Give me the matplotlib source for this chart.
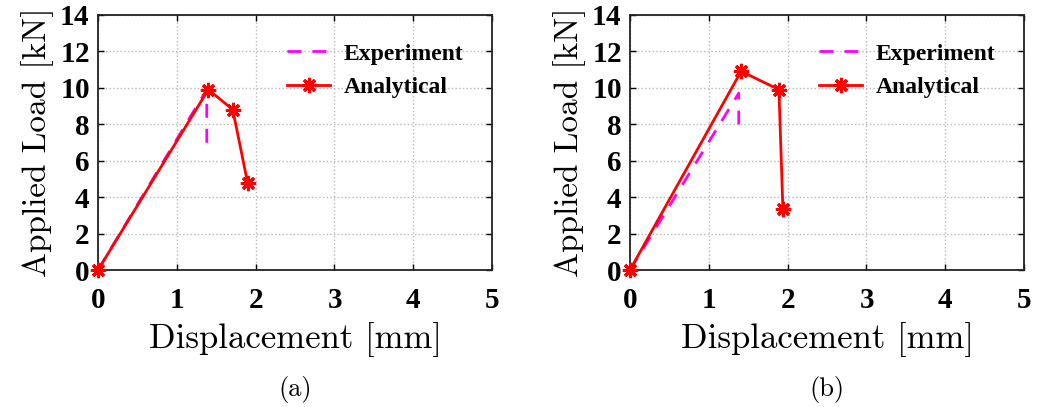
import matplotlib
matplotlib.use("Agg")
import matplotlib.pyplot as plt

plt.rcParams["font.family"] = "serif"
plt.rcParams["font.serif"] = ["cmr10", "DejaVu Serif"]
plt.rcParams["mathtext.fontset"] = "cm"
plt.rcParams["axes.formatter.use_mathtext"] = True

# Load-displacement curves for the two specimens
exp_a_disp = [0.0, 1.38, 1.38]
exp_a_load = [0.0, 9.9, 6.6]
ana_a_disp = [0.0, 1.40, 1.71, 1.90]
ana_a_load = [0.0, 9.9, 8.8, 4.75]

exp_b_disp = [0.0, 1.38, 1.38]
exp_b_load = [0.0, 9.7, 7.75]
ana_b_disp = [0.0, 1.41, 1.89, 1.94]
ana_b_load = [0.0, 10.9, 9.9, 3.35]

x_ticks = [0, 1, 2, 3, 4, 5]
y_ticks = [0, 2, 4, 6, 8, 10, 12, 14]

panels = [
    ("(a)", exp_a_disp, exp_a_load, ana_a_disp, ana_a_load),
    ("(b)", exp_b_disp, exp_b_load, ana_b_disp, ana_b_load),
]

bold_serif = {"family": "Liberation Serif", "weight": "bold"}

fig = plt.figure(figsize=(10.37, 4.07), dpi=100)
lefts = [0.0945, 0.6075]

for left, (tag, ex, ey, ax_, ay) in zip(lefts, panels):
    ax = fig.add_axes([left, 0.3366, 0.38, 0.627])
    ax.plot(ex, ey, color="magenta", linestyle=(0, (5, 4)), linewidth=2,
            label="Experiment")
    ax.plot(ax_, ay, color="red", linewidth=2, marker=(8, 2, 0),
            markersize=11, markeredgewidth=2.2, label="Analytical",
            clip_on=False, zorder=5)
    ax.set_xlim(0, 5)
    ax.set_ylim(0, 14)
    ax.set_xticks(x_ticks)
    ax.set_yticks(y_ticks)
    ax.grid(True, linestyle=":", color="#b8b8b8", linewidth=1)
    for sp in ax.spines.values():
        sp.set_linewidth(1.3)
        sp.set_color("#222222")
    ax.tick_params(direction="in", length=4, width=1, top=True, right=True)
    ax.tick_params(axis="x", pad=12)
    ax.tick_params(axis="y", pad=6)
    for lab in ax.get_xticklabels() + ax.get_yticklabels():
        lab.set_fontproperties(bold_serif)
        lab.set_fontsize(21)
    ax.set_xlabel("Displacement [mm]", fontsize=25, labelpad=6)
    ax.set_ylabel("Applied Load [kN]", fontsize=24, labelpad=4)
    ax.legend(loc="upper right", frameon=False, handlelength=1.8,
              handletextpad=0.6, borderaxespad=1.0, labelspacing=0.5,
              borderpad=0.2, prop=dict(bold_serif, size=17))
    ax.text(0.5, -0.415, tag, transform=ax.transAxes, ha="center", va="top",
            fontsize=19)

fig.savefig("out.png", dpi=100)
